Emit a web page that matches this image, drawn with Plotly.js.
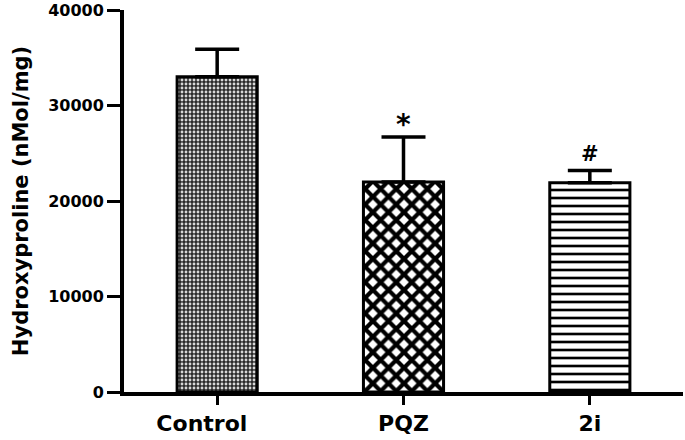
<!DOCTYPE html>
<html>
<head>
<meta charset="utf-8">
<script src="https://cdn.plot.ly/plotly-3.0.1.min.js"></script>
<style>html,body{margin:0;padding:0;background:#fff;}#chart{width:685px;height:440px;}</style>
</head>
<body>
<div id="chart"></div>
<script>
const categories = ['Control', 'PQZ', '2i'];
const tickLabels = ['Control\u00a0\u00a0\u00a0\u00a0', 'PQZ', '2i'];
const means = [33000, 22000, 21900];
const errors = [2900, 4700, 1300];
const markers = ['', '*', '#'];
const markerSizes = [0, 28, 21];
const yTicks = [0, 10000, 20000, 30000, 40000];

const FONT = 'DejaVu Sans, Arial, sans-serif';

const patterns = [
  {shape: '.', fgcolor: '#d8d8d8', bgcolor: '#2a2a2a', size: 4, solidity: 0.4, fillmode: 'replace'},
  {shape: 'x', fgcolor: '#000000', bgcolor: '#ffffff', size: 11, solidity: 0.62, fillmode: 'replace'},
  {shape: '-', fgcolor: '#000000', bgcolor: '#ffffff', size: 8, solidity: 0.33, fillmode: 'replace'}
];

const traces = categories.map((c, i) => ({
  type: 'bar',
  x: [c],
  y: [means[i]],
  width: 0.43,
  marker: {
    color: patterns[i].bgcolor,
    line: {color: '#000', width: 3},
    pattern: patterns[i]
  },
  error_y: {
    type: 'data', symmetric: false,
    array: [errors[i]], arrayminus: [0],
    color: '#000', thickness: 3.5, width: 22
  },
  showlegend: false,
  hoverinfo: 'skip'
}));

const annotations = categories.map((c, i) => ({
  x: c, y: means[i] + errors[i], text: markers[i],
  showarrow: false, yanchor: 'bottom', yshift: i === 1 ? -6 : 2,
  font: {family: FONT, size: markerSizes[i], weight: 'bold', color: '#000'}
})).filter(a => a.text);

const layout = {
  width: 685, height: 440,
  margin: {l: 124, r: 2, t: 10, b: 48},
  paper_bgcolor: '#fff', plot_bgcolor: '#fff',
  font: {family: FONT, color: '#000'},
  bargap: 0,
  xaxis: {
    type: 'category', categoryorder: 'array', categoryarray: categories,
    tickvals: categories, ticktext: tickLabels,
    range: [-0.5, 2.5],
    showline: true, linecolor: '#000', linewidth: 4,
    ticks: 'outside', ticklen: 9, tickwidth: 3, tickcolor: '#000',
    showgrid: false, zeroline: false,
    tickfont: {family: FONT, size: 22, weight: 'bold', color: '#000'}
  },
  yaxis: {
    range: [0, 40000], tickvals: yTicks, tickformat: 'd',
    showline: true, linecolor: '#000', linewidth: 4,
    ticks: 'outside', ticklen: 13, tickwidth: 3, tickcolor: '#000',
    showgrid: false, zeroline: false,
    tickfont: {family: FONT, size: 16, weight: 'bold', color: '#000'},
    title: {text: 'Hydroxyproline (nMol/mg)', standoff: 15,
            font: {family: FONT, size: 21, weight: 'bold', color: '#000'}}
  },
  annotations: annotations
};

Plotly.newPlot('chart', traces, layout, {displayModeBar: false, staticPlot: true});
</script>
</body>
</html>
